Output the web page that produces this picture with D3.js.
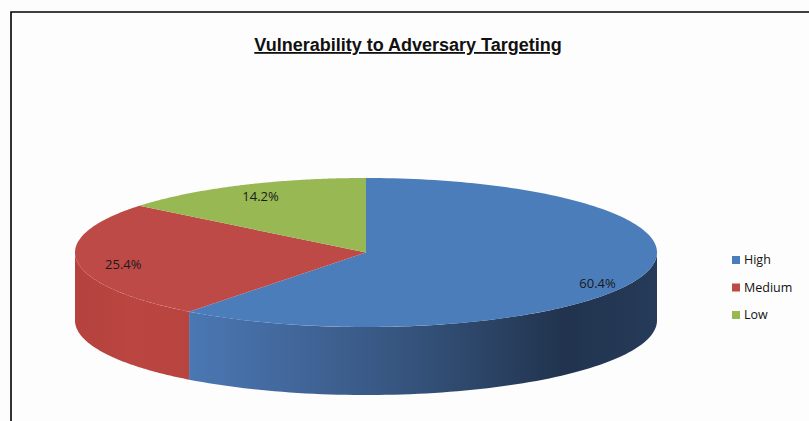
<!DOCTYPE html>
<html><head><meta charset="utf-8">
<script src="https://cdn.jsdelivr.net/npm/d3@7"></script>
<style>body{margin:0;background:#fff;}svg{display:block;}</style>
</head><body>
<svg id="c" width="809" height="421"></svg>
<script>
const categories = ["High", "Medium", "Low"];
const values = [60.4, 25.4, 14.2];
const labels = ["60.4%", "25.4%", "14.2%"];
const title = "Vulnerability to Adversary Targeting";

const W = 809, H = 421;
const svg = d3.select("#c");
svg.append("rect").attr("width", W).attr("height", H).attr("fill", "#fdfdfd");

const topColors = d3.scaleOrdinal().domain(categories).range(["#4a7dba", "#bd4a47", "#97b853"]);

const cx = 366, cy = 252.5, rx = 291, ry = 74.5, depth = 68;
const pie = d3.pie().sort(null).startAngle(0).endAngle(2 * Math.PI).value(d => d);
const arcs = pie(values);

const px = a => cx + rx * Math.sin(a);
const py = a => cy - ry * Math.cos(a);

const defs = svg.append("defs");
const gB = defs.append("linearGradient").attr("id", "sideHigh").attr("gradientUnits", "userSpaceOnUse")
  .attr("x1", cx - rx).attr("x2", cx + rx).attr("y1", 0).attr("y2", 0);
[[0, "#4f80bf"], [0.19, "#4a78b4"], [0.35, "#43699e"], [0.5, "#3a5b88"], [0.7, "#2c4567"], [0.84, "#21334e"], [1, "#263b5a"]]
  .forEach(([o, c]) => gB.append("stop").attr("offset", o).attr("stop-color", c));
const gR = defs.append("linearGradient").attr("id", "sideMedium").attr("gradientUnits", "userSpaceOnUse")
  .attr("x1", cx - rx).attr("x2", cx + rx).attr("y1", 0).attr("y2", 0);
[[0, "#b5423e"], [0.1, "#ba4541"], [0.2, "#b84440"], [1, "#a53b38"]]
  .forEach(([o, c]) => gR.append("stop").attr("offset", o).attr("stop-color", c));
const gG = defs.append("linearGradient").attr("id", "sideLow").attr("gradientUnits", "userSpaceOnUse")
  .attr("x1", cx - rx).attr("x2", cx + rx).attr("y1", 0).attr("y2", 0);
[[0, "#8aa84c"], [1, "#6f8a3d"]].forEach(([o, c]) => gG.append("stop").attr("offset", o).attr("stop-color", c));

// side walls (front half only: angles between PI/2 and 3PI/2)
const sideG = svg.append("g");
arcs.forEach((d, i) => {
  const a0 = Math.max(d.startAngle, Math.PI / 2), a1 = Math.min(d.endAngle, 3 * Math.PI / 2);
  if (a1 <= a0) return;
  const n = 80, pts = d3.range(n + 1).map(k => a0 + (a1 - a0) * k / n);
  const p = d3.path();
  p.moveTo(px(pts[0]), py(pts[0]));
  pts.forEach(a => p.lineTo(px(a), py(a)));
  pts.slice().reverse().forEach(a => p.lineTo(px(a), py(a) + depth));
  p.closePath();
  sideG.append("path").attr("d", p.toString()).attr("fill", `url(#side${categories[i]})`);
});

// top faces
const topG = svg.append("g");
arcs.forEach((d, i) => {
  const n = 160, p = d3.path();
  p.moveTo(cx, cy);
  d3.range(n + 1).forEach(k => {
    const a = d.startAngle + (d.endAngle - d.startAngle) * k / n;
    p.lineTo(px(a), py(a));
  });
  p.closePath();
  topG.append("path").attr("d", p.toString()).attr("fill", topColors(categories[i]));
});

// data labels
const lf = 0.84;
arcs.forEach((d, i) => {
  const m = (d.startAngle + d.endAngle) / 2;
  const x = cx + rx * lf * Math.sin(m);
  const y = cy - ry * lf * Math.cos(m) + depth * 0.5 * Math.max(0, -Math.cos(m));
  svg.append("text").attr("x", x).attr("y", y).attr("dy", "0.35em")
    .attr("text-anchor", "middle").attr("font-family", "Open Sans, sans-serif")
    .attr("font-size", 13).attr("fill", "#1a1a1a").text(labels[i]);
});

// title
svg.append("text").attr("x", 408).attr("y", 51).attr("text-anchor", "middle")
  .attr("font-family", "Liberation Sans, Arial, sans-serif").attr("font-size", 18)
  .attr("font-weight", "bold").attr("fill", "#111").attr("text-decoration", "underline")
  .text(title);

// legend
const leg = svg.append("g").attr("transform", "translate(732,256)");
categories.forEach((c, i) => {
  const g = leg.append("g").attr("transform", `translate(0,${i * 27.5})`);
  g.append("rect").attr("width", 8).attr("height", 8).attr("fill", topColors(c));
  g.append("text").attr("x", 12).attr("y", 4).attr("dy", "0.35em")
    .attr("font-family", "Open Sans, sans-serif").attr("font-size", 12.5)
    .attr("fill", "#111").text(c);
});

// frame lines
svg.append("path").attr("d", `M11,${H} L11,12 L${W},12`).attr("fill", "none")
  .attr("stroke", "#000").attr("stroke-width", 1.6);
</script>
</body></html>
